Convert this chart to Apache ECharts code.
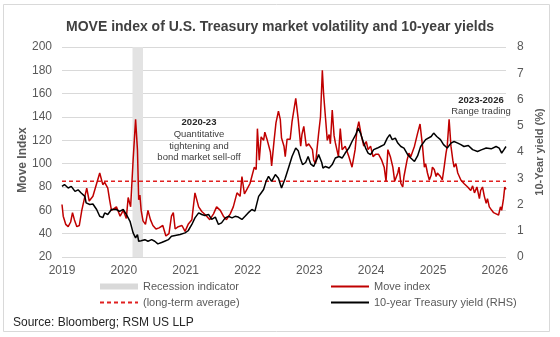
<!DOCTYPE html>
<html>
<head>
<meta charset="utf-8">
<script src="https://cdn.jsdelivr.net/npm/echarts@6/dist/echarts.min.js"></script>
<style>html,body{margin:0;padding:0;background:#fff}#c{width:560px;height:337px}</style>
</head>
<body>
<div id="c"></div>
<script>
var xTicks = [2019, 2020, 2021, 2022, 2023, 2024, 2025, 2026];
var recessionStart = 2020.14, recessionEnd = 2020.31;
var longTermAverage = 85;

var moveDates = [2019.00,2019.02,2019.06,2019.10,2019.14,2019.17,2019.20,2019.24,2019.28,2019.32,2019.40,2019.44,2019.50,2019.61,2019.66,2019.69,2019.74,2019.77,2019.80,2019.88,2019.94,2019.99,2020.04,2020.07,2020.11,2020.15,2020.19,2020.22,2020.24,2020.26,2020.28,2020.31,2020.35,2020.39,2020.43,2020.47,2020.52,2020.57,2020.63,2020.68,2020.73,2020.77,2020.80,2020.83,2020.88,2020.94,2020.99,2021.04,2021.10,2021.15,2021.21,2021.26,2021.34,2021.39,2021.45,2021.50,2021.56,2021.61,2021.66,2021.72,2021.77,2021.83,2021.88,2021.91,2021.95,2021.99,2022.04,2022.07,2022.11,2022.14,2022.16,2022.19,2022.22,2022.26,2022.28,2022.32,2022.37,2022.39,2022.43,2022.46,2022.50,2022.53,2022.55,2022.59,2022.61,2022.64,2022.69,2022.72,2022.78,2022.82,2022.86,2022.88,2022.91,2022.95,2022.99,2023.05,2023.07,2023.10,2023.15,2023.18,2023.21,2023.23,2023.26,2023.29,2023.32,2023.34,2023.37,2023.40,2023.42,2023.47,2023.50,2023.53,2023.58,2023.64,2023.69,2023.74,2023.77,2023.80,2023.84,2023.88,2023.92,2023.95,2023.99,2024.03,2024.07,2024.12,2024.17,2024.21,2024.24,2024.27,2024.31,2024.35,2024.38,2024.43,2024.45,2024.48,2024.51,2024.53,2024.58,2024.61,2024.64,2024.70,2024.75,2024.79,2024.83,2024.86,2024.88,2024.91,2024.94,2024.97,2024.99,2025.02,2025.05,2025.07,2025.12,2025.15,2025.18,2025.21,2025.23,2025.26,2025.29,2025.32,2025.34,2025.37,2025.40,2025.45,2025.50,2025.56,2025.61,2025.64,2025.67,2025.71,2025.75,2025.77,2025.80,2025.83,2025.86,2025.88,2025.91,2025.95,2025.98,2026.02,2026.06,2026.09,2026.11,2026.14,2026.16,2026.18];
var moveValues = [65,55,48,46,50,58,52,46,47,60,79,68,72,92,82,84,79,69,60,63,55,60,53,71,63,103,138,112,69,73,60,51,48,60,52,47,44,45,47,38,40,55,58,44,46,47,42,48,52,75,63,59,55,52,57,63,60,55,52,57,63,75,72,89,74,78,83,89,97,95,130,103,123,120,127,120,110,98,120,135,145,138,122,115,106,121,121,136,156,138,115,125,132,115,117,112,103,100,126,140,180,160,140,120,125,117,146,124,118,106,130,112,115,106,97,112,129,136,124,115,119,112,115,106,108,108,103,97,85,112,106,97,85,92,97,83,80,89,103,109,106,115,126,134,115,97,100,92,86,90,97,95,89,92,89,86,97,109,115,138,115,103,97,100,92,86,83,80,77,81,75,80,70,77,80,72,66,70,63,60,58,57,56,63,60,70,80,78];

var yieldDates = [2019.00,2019.04,2019.10,2019.15,2019.21,2019.26,2019.31,2019.37,2019.39,2019.45,2019.50,2019.56,2019.61,2019.66,2019.69,2019.74,2019.80,2019.83,2019.88,2019.93,2019.99,2020.04,2020.10,2020.15,2020.19,2020.22,2020.24,2020.28,2020.34,2020.39,2020.45,2020.50,2020.55,2020.61,2020.66,2020.72,2020.77,2020.80,2020.91,2020.99,2021.04,2021.10,2021.15,2021.21,2021.26,2021.31,2021.37,2021.42,2021.48,2021.53,2021.58,2021.64,2021.69,2021.75,2021.80,2021.85,2021.91,2021.96,2022.01,2022.07,2022.12,2022.15,2022.18,2022.22,2022.26,2022.30,2022.34,2022.39,2022.45,2022.50,2022.55,2022.61,2022.67,2022.72,2022.78,2022.82,2022.86,2022.89,2022.94,2022.98,2023.02,2023.07,2023.13,2023.15,2023.20,2023.22,2023.26,2023.32,2023.37,2023.42,2023.48,2023.53,2023.58,2023.64,2023.69,2023.75,2023.79,2023.83,2023.87,2023.91,2023.95,2023.99,2024.04,2024.10,2024.15,2024.21,2024.26,2024.30,2024.34,2024.39,2024.43,2024.48,2024.53,2024.59,2024.64,2024.70,2024.75,2024.80,2024.88,2024.97,2025.01,2025.06,2025.12,2025.17,2025.23,2025.29,2025.34,2025.40,2025.45,2025.50,2025.57,2025.64,2025.72,2025.78,2025.86,2025.94,2026.02,2026.07,2026.11,2026.15,2026.18];
var yieldValues = [2.69,2.76,2.63,2.69,2.50,2.56,2.44,2.31,2.06,2.00,2.02,1.81,1.55,1.50,1.68,1.62,1.81,1.87,1.81,1.74,1.81,1.62,1.36,0.92,0.73,0.85,0.60,0.62,0.66,0.60,0.66,0.60,0.50,0.55,0.60,0.66,0.79,0.79,0.86,0.92,1.00,1.24,1.49,1.68,1.62,1.58,1.62,1.43,1.52,1.24,1.30,1.49,1.55,1.49,1.55,1.52,1.43,1.55,1.68,1.81,1.75,1.81,2.31,2.44,2.57,2.88,3.07,2.88,3.14,3.00,2.63,3.00,3.45,3.83,4.15,4.05,3.71,3.52,3.60,3.83,3.55,3.45,3.77,3.90,3.60,3.39,3.45,3.39,3.52,3.77,3.83,3.77,3.96,4.15,4.40,4.66,4.91,4.70,4.40,4.15,3.96,3.90,4.09,4.15,4.21,4.28,4.53,4.66,4.47,4.53,4.34,4.21,4.15,3.90,3.77,3.64,3.85,4.21,4.47,4.59,4.72,4.59,4.47,4.28,4.15,4.34,4.40,4.34,4.28,4.21,4.25,4.09,4.02,4.08,4.15,4.12,4.21,4.15,3.96,4.10,4.21];

function zip(a, b) { return a.map(function (d, i) { return [d, b[i]]; }); }
var xMin = xTicks[0], xMax = 2026.18;
var avgData = [[xMin, longTermAverage], [xMax, longTermAverage]];

var FONT = 'Liberation Sans, Arial, sans-serif';
var chart = echarts.init(document.getElementById('c'), null, {renderer: 'canvas'});
var legendText = {fontFamily: FONT, fontSize: 11, color: '#595959'};
chart.setOption({
  animation: false,
  backgroundColor: '#ffffff',
  textStyle: {fontFamily: FONT},
  title: {
    text: 'MOVE index of U.S. Treasury market volatility and 10-year yields',
    left: 'center', top: 15,
    textStyle: {fontFamily: FONT, fontSize: 14, fontWeight: 'bold', color: '#404040'}
  },
  graphic: [
    {type: 'rect', shape: {x: 3.5, y: 4.5, width: 546, height: 327}, style: {fill: 'none', stroke: '#d9d9d9', lineWidth: 1}, silent: true, z: -10},
    {type: 'text', left: 13, top: 317, style: {text: 'Source: Bloomberg; RSM US LLP', font: '12px ' + FONT, fill: '#262626'}},
    {type: 'text', x: 23, y: 160, rotation: Math.PI / 2, style: {text: 'Move Index', font: 'bold 12px ' + FONT, fill: '#595959', align: 'center', verticalAlign: 'middle'}},
    {type: 'text', x: 199, y: 117, style: {text: '2020-23', font: 'bold 9.5px ' + FONT, fill: '#262626', align: 'center'}},
    {type: 'text', x: 199, y: 129, style: {text: 'Quantitative\ntightening and\nbond market sell-off', font: '9.5px ' + FONT, fill: '#404040', align: 'center', lineHeight: 11.3}},
    {type: 'text', x: 481, y: 95, style: {text: '2023-2026', font: 'bold 9.5px ' + FONT, fill: '#262626', align: 'center'}},
    {type: 'text', x: 481, y: 106, style: {text: 'Range trading', font: '9.5px ' + FONT, fill: '#404040', align: 'center'}}
  ],
  legend: [
    {left: 99, top: 281, orient: 'vertical', itemGap: 5, itemWidth: 38, itemHeight: 6, padding: 0,
     itemStyle: {opacity: 0}, textStyle: legendText,
     data: [{name: 'Recession indicator', icon: 'rect', itemStyle: {opacity: 1, color: '#d9d9d9'}}, {name: '(long-term average)'}]},
    {left: 330, top: 281, orient: 'vertical', itemGap: 5, itemWidth: 38, itemHeight: 6, padding: 0,
     itemStyle: {opacity: 0}, textStyle: legendText,
     data: ['Move index', '10-year Treasury yield (RHS)']}
  ],
  grid: {left: 62, right: 54, top: 47, bottom: 80, containLabel: false},
  xAxis: {
    type: 'value', min: xMin, max: xMax, interval: 1,
    axisLine: {show: false}, axisTick: {show: false}, splitLine: {show: false},
    axisLabel: {showMaxLabel: false, color: '#595959', fontSize: 12, margin: 8, fontFamily: FONT,
      formatter: function (v) { return String(Math.round(v)); }}
  },
  yAxis: [
    {type: 'value', min: 20, max: 200, interval: 20,
     axisLine: {show: false}, axisTick: {show: false},
     axisLabel: {color: '#595959', fontSize: 12, margin: 10, fontFamily: FONT},
     splitLine: {lineStyle: {color: '#d9d9d9', width: 1}}},
    {type: 'value', min: 0, max: 8, interval: 1, name: '10-Year yield (%)', nameLocation: 'middle', nameRotate: 90, nameGap: 26,
     nameTextStyle: {fontFamily: FONT, fontSize: 11, fontWeight: 'bold', color: '#595959'},
     axisLine: {show: false}, axisTick: {show: false},
     axisLabel: {color: '#595959', fontSize: 12, margin: 11, fontFamily: FONT},
     splitLine: {show: false}}
  ],
  series: [
    {name: 'Recession indicator', type: 'line', data: [], symbol: 'none',
     itemStyle: {color: '#d9d9d9'}, lineStyle: {color: '#d9d9d9'},
     markArea: {silent: true, itemStyle: {color: '#e3e3e3'}, data: [[{xAxis: recessionStart}, {xAxis: recessionEnd}]]}},
    {name: '(long-term average)', type: 'line', data: avgData, symbol: 'none', z: 3,
     itemStyle: {color: '#e02020'}, lineStyle: {color: '#e02020', width: 1.5, type: [4, 3]}},
    {name: 'Move index', type: 'line', data: zip(moveDates, moveValues), symbol: 'none', z: 4,
     itemStyle: {color: '#c00000'}, lineStyle: {color: '#c00000', width: 1.5}},
    {name: '10-year Treasury yield (RHS)', type: 'line', yAxisIndex: 1, data: zip(yieldDates, yieldValues), symbol: 'none', z: 5,
     itemStyle: {color: '#000000'}, lineStyle: {color: '#000000', width: 1.5}}
  ]
});
</script>
</body>
</html>
